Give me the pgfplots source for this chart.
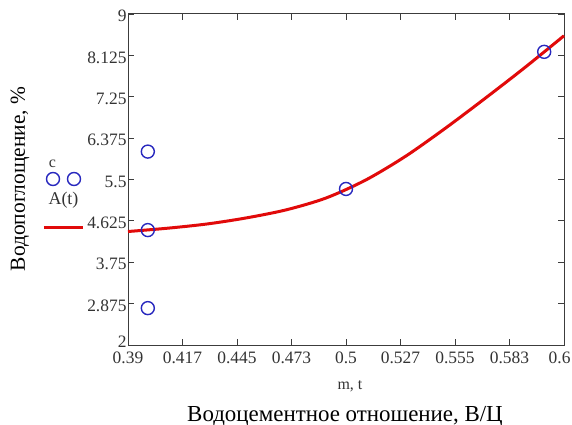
\documentclass[border=0pt]{standalone}
\usepackage{fontspec}
\setmainfont{Liberation Serif}
\usepackage{pgfplots}
\pgfplotsset{compat=1.18}
\definecolor{mcblue}{RGB}{40,40,190}
\definecolor{mcred}{RGB}{225,10,10}
\definecolor{axgray}{RGB}{60,60,60}
\begin{document}
\begin{tikzpicture}
\useasboundingbox (0,0) rectangle (572bp,425bp);
\begin{axis}[
  at={(128bp,80bp)}, anchor=south west,
  width=436bp, height=331bp, scale only axis,
  clip=false,
  xmin=0.39, xmax=0.61, ymin=2, ymax=9,
  xtick={0.39,0.4175,0.445,0.4725,0.5,0.5275,0.555,0.5825,0.61},
  xticklabels={0.39,0.417,0.445,0.473,0.5,0.527,0.555,0.583,0.61},
  ytick={2,2.875,3.75,4.625,5.5,6.375,7.25,8.125,9},
  yticklabels={\raisebox{10bp}{2},2.875,3.75,4.625,5.5,6.375,7.25,8.125,\raisebox{-3bp}{9}},
  /pgf/number format/assume math mode=true,
  tick align=inside, major tick length=6bp,
  tick style={axgray, line width=0.9bp},
  axis line style={axgray, line width=1bp},
  ticklabel style={font=\fontsize{17.5}{17.5}\selectfont, text=black!80},
  xticklabel style={yshift=-3bp},
  yticklabel style={xshift=2bp, yshift=-2bp},
  xlabel={Водоцементное отношение, В/Ц},
  xlabel style={at={(axis description cs:0.4977,-0.2170)}, anchor=center, font=\fontsize{23}{23}\selectfont},
  ylabel={Водопоглощение, \%},
  ylabel style={at={(axis description cs:-0.2477,0.5015)}, anchor=center, font=\fontsize{21.5}{21.5}\selectfont},
  legend style={draw=none, fill=none, inner sep=0pt, outer sep=0pt,
    at={(axis description cs:-0.1961,0.568)}, anchor=north west,
    row sep=0pt, nodes={inner sep=0pt}},
]
\addplot[only marks, mark=o, mark size=6.5bp, mcblue, line width=1.4bp,
  legend image code/.code={
    \path[draw=none, fill=none] (-20bp,-22bp) rectangle (20bp,22bp);
    \draw[mcblue, line width=1.4bp] (-10.5bp,0bp) circle (6.5bp);
    \draw[mcblue, line width=1.4bp] (10.5bp,0bp) circle (6.5bp);
    \node[black!80, font=\fontsize{16}{16}\selectfont] at (-11bp,15bp) {c};
    \node[black!80, font=\fontsize{18}{18}\selectfont] at (0bp,-20bp) {A(t)};
  }]
  coordinates {(0.40,6.09) (0.40,4.43) (0.40,2.78) (0.50,5.30) (0.60,8.20)};
\addlegendentry{}
\addplot[mcred, line width=3bp, smooth,
  legend image code/.code={
    \path[draw=none, fill=none] (-20bp,-22bp) rectangle (20bp,22bp);
    \draw[mcred, line width=3bp] (-19.5bp,0bp) -- (19.5bp,0bp);
  }]
  coordinates {(0.39,4.40) (0.41,4.47) (0.43,4.56) (0.45,4.69) (0.47,4.86)
    (0.49,5.11) (0.51,5.49) (0.53,5.99) (0.55,6.58) (0.57,7.21)
    (0.59,7.86) (0.61,8.54)};
\addlegendentry{}
\node[font=\fontsize{16}{16}\selectfont, text=black!80] at (axis description cs:0.509,-0.124) {m, t};
\end{axis}
\end{tikzpicture}
\end{document}
